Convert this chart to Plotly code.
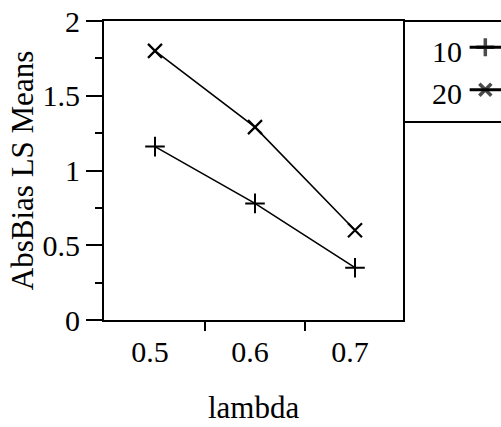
import plotly.graph_objects as go

lam = [0.5, 0.6, 0.7]
s10 = [1.16, 0.78, 0.35]
s20 = [1.80, 1.29, 0.60]
series_names = ["10", "20"]
x_ticks = [0.5, 0.6, 0.7]
y_ticks = [0, 0.5, 1, 1.5, 2]

FONT = "Liberation Serif, Times New Roman, serif"
W, H = 501, 427
L, T, B = 104, 21, 107
PW = 299  # plot width in px
PH = H - T - B
paper_w = W - L
xd = PW / paper_w

fig = go.Figure()
fig.add_trace(go.Scatter(x=lam, y=s10, mode="lines+markers", name="10",
                         line=dict(color="black", width=1.6),
                         marker=dict(symbol="cross-thin", size=14, line=dict(color="black", width=2)),
                         showlegend=False))
fig.add_trace(go.Scatter(x=lam, y=s20, mode="lines+markers", name="20",
                         line=dict(color="black", width=1.6),
                         marker=dict(symbol="x-thin", size=14, line=dict(color="black", width=2.2)),
                         showlegend=False))

# custom legend samples (text left, symbol right)
leg_y_mark = [0.74, 0.32]
leg_y_text = [0.70, 0.28]
fig.add_trace(go.Scatter(x=[0.68, 0.84, 1.05], y=[leg_y_mark[0]] * 3, mode="lines+markers",
                         xaxis="x2", yaxis="y2", showlegend=False, cliponaxis=True,
                         line=dict(color="black", width=3),
                         marker=dict(symbol="cross-thin", size=[0, 13, 0], line=dict(color="black", width=3.5))))
fig.add_trace(go.Scatter(x=[0.68, 0.84, 1.05], y=[leg_y_mark[1]] * 3, mode="lines+markers",
                         xaxis="x2", yaxis="y2", showlegend=False, cliponaxis=True,
                         line=dict(color="black", width=3),
                         marker=dict(symbol="x-thin", size=[0, 12, 0], line=dict(color="black", width=3.5))))
for name, yy in zip(series_names, leg_y_text):
    fig.add_annotation(x=0.45, y=yy, xref="x2", yref="y2", text=name, showarrow=False,
                       font=dict(family=FONT, size=30, color="black"), xanchor="center", yanchor="middle")

# x axis title
fig.add_annotation(x=xd / 2, y=-107 / PH, xref="paper", yref="paper", text="lambda",
                   showarrow=False, font=dict(family=FONT, size=31, color="black"),
                   xanchor="center", yanchor="bottom")

leg_bottom = (H - B - 122) / PH

fig.update_layout(
    width=W, height=H,
    margin=dict(l=L, r=0, t=T, b=B, pad=0),
    paper_bgcolor="white", plot_bgcolor="white",
    font=dict(family=FONT, size=30, color="black"),
    xaxis=dict(domain=[0, xd], range=[0.449, 0.748], tickvals=x_ticks, automargin=False,
               ticktext=[str(v) for v in x_ticks], ticks="", showgrid=False, zeroline=False,
               showline=True, linecolor="black", linewidth=2, mirror=True,
               ticklabelshift=-5, ticklabelstandoff=4,
               minor=dict(tickvals=[0.55, 0.65], ticks="outside", ticklen=9, tickwidth=2,
                          tickcolor="black", showgrid=False)),
    yaxis=dict(domain=[0, 1], range=[0, 2], tickvals=y_ticks, automargin=False,
               ticktext=["0", "0.5", "1", "1.5", "2"], ticks="outside", ticklen=16, tickwidth=2,
               tickcolor="black", showgrid=False, zeroline=False,
               showline=True, linecolor="black", linewidth=2, mirror=True,
               minor=dict(tickvals=[0.25, 0.75, 1.25, 1.75], ticks="outside", ticklen=7, tickwidth=2,
                          tickcolor="black", showgrid=False),
               title=dict(text="AbsBias LS Means", font=dict(size=31), standoff=0)),
    xaxis2=dict(domain=[xd, 1], range=[0, 1], visible=False, anchor="y2"),
    yaxis2=dict(domain=[leg_bottom, 1], range=[0, 1], visible=False, anchor="x2"),
    shapes=[
        dict(type="line", xref="paper", yref="paper", x0=xd, x1=1, y0=1, y1=1,
             line=dict(color="black", width=2)),
        dict(type="line", xref="paper", yref="paper", x0=xd, x1=1, y0=leg_bottom, y1=leg_bottom,
             line=dict(color="black", width=2)),
    ],
)

fig.write_html("out.html")
